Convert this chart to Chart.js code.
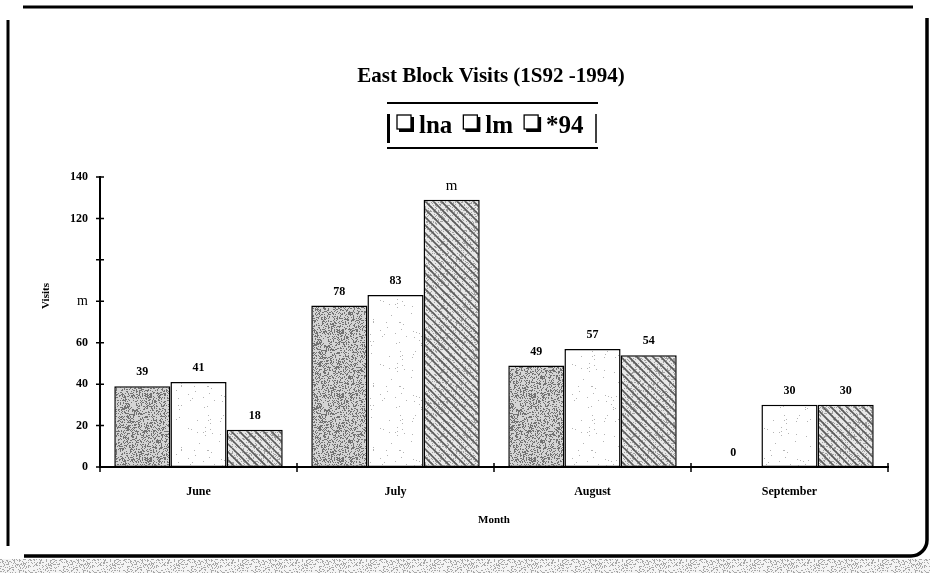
<!DOCTYPE html>
<html>
<head>
<meta charset="utf-8">
<title>East Block Visits</title>
<script src="https://cdn.jsdelivr.net/npm/chart.js@4.4.0/dist/chart.umd.min.js"></script>
<style>
  html, body { margin: 0; padding: 0; background: #fff; }
  #wrap { width: 930px; height: 573px; }
</style>
</head>
<body>
<div id="wrap"><canvas id="visitsChart" width="930" height="573"></canvas></div>
<script>
// visits per month, one array per year
const months = ['June', 'July', 'August', 'September'];
const visits92 = [39, 78, 49, 0];
const visits93 = [41, 83, 57, 30];
const visits94 = [18, 129, 54, 30];
const seriesNames = ['lna', 'lm', '*94'];
const yTickLabels = ['0', '20', '40', '60', 'm', '', '120', '140'];
const chartTitle = 'East Block Visits (1S92 -1994)';
const yTitle = 'Visits';
// printed label that differs from the number (1994, July)
const printedOverrides = { '2:1': 'm' };

const SERIF = '"Liberation Serif", "Times New Roman", serif';
const canvas = document.getElementById('visitsChart');
const mainCtx = canvas.getContext('2d');

// small deterministic generator, only used for fill textures
function lcg(seed) {
    let s = seed;
    return () => {
        s = (s * 1103515245 + 12345) & 0x7fffffff;
        return s / 0x7fffffff;
    };
}

function makePattern(size, paint) {
    const c = document.createElement('canvas');
    c.width = size;
    c.height = size;
    paint(c.getContext('2d'), size);
    return mainCtx.createPattern(c, 'repeat');
}

function speckle(ctx, size, base, dot, density, seed) {
    const rnd = lcg(seed);
    ctx.fillStyle = base;
    ctx.fillRect(0, 0, size, size);
    ctx.fillStyle = dot;
    for (let y = 0; y < size; y++) {
        for (let x = 0; x < size; x++) {
            if (rnd() < density) ctx.fillRect(x, y, 1, 1);
        }
    }
}

const stipple = makePattern(64, (ctx, n) => speckle(ctx, n, '#d4d4d4', '#727272', 0.34, 11));
const plain = makePattern(64, (ctx, n) => speckle(ctx, n, '#ffffff', '#b5b5b5', 0.012, 5));
const hatch = makePattern(64, (ctx, n) => {
    speckle(ctx, n, '#e8e8e8', '#a0a0a0', 0.2, 23);
    ctx.strokeStyle = '#5a5a5a';
    ctx.lineWidth = 1.6;
    for (let x0 = -n; x0 < n; x0 += 8) {
        ctx.beginPath();
        ctx.moveTo(x0, 0);
        ctx.lineTo(x0 + n, n);
        ctx.stroke();
    }
});
const grain = makePattern(64, (ctx, n) => speckle(ctx, n, '#f4f4f4', '#a8a8a8', 0.28, 41));

// page frame, titles and the boxed legend
const decorPlugin = {
    id: 'decor',
    beforeDraw(chart) {
        const ctx = chart.ctx;
        ctx.save();
        ctx.fillStyle = '#fff';
        ctx.fillRect(0, 0, chart.width, chart.height);
        ctx.fillStyle = grain;
        ctx.fillRect(0, 559, chart.width, chart.height - 559);

        ctx.strokeStyle = '#000';
        ctx.lineWidth = 3;
        ctx.beginPath();
        ctx.moveTo(23, 7);
        ctx.lineTo(913, 7);
        ctx.stroke();
        ctx.beginPath();
        ctx.moveTo(8, 20);
        ctx.lineTo(8, 546);
        ctx.stroke();
        ctx.lineWidth = 3.5;
        ctx.beginPath();
        ctx.moveTo(927, 18);
        ctx.lineTo(927, 540);
        ctx.arcTo(927, 556, 911, 556, 16);
        ctx.lineTo(24, 556);
        ctx.stroke();
        ctx.restore();
    },
    afterDraw(chart) {
        const ctx = chart.ctx;
        const cx = 491;
        ctx.save();
        ctx.fillStyle = '#000';
        ctx.textAlign = 'center';
        ctx.textBaseline = 'alphabetic';
        ctx.font = 'bold 21px ' + SERIF;
        ctx.fillText(chartTitle, cx, 82);

        // y axis title, sits a little above the middle of the axis
        ctx.save();
        ctx.translate(46, 296);
        ctx.rotate(-Math.PI / 2);
        ctx.textBaseline = 'middle';
        ctx.font = 'bold 11px ' + SERIF;
        ctx.fillText(yTitle, 0, 0);
        ctx.restore();

        // legend frame
        ctx.strokeStyle = '#000';
        ctx.lineWidth = 2;
        ctx.beginPath();
        ctx.moveTo(387, 103);
        ctx.lineTo(598, 103);
        ctx.moveTo(387, 148);
        ctx.lineTo(598, 148);
        ctx.stroke();
        ctx.lineWidth = 3;
        ctx.beginPath();
        ctx.moveTo(388.5, 114);
        ctx.lineTo(388.5, 143);
        ctx.stroke();
        ctx.lineWidth = 1.5;
        ctx.beginPath();
        ctx.moveTo(596, 114);
        ctx.lineTo(596, 143);
        ctx.stroke();

        // legend entries
        ctx.font = 'bold 25px ' + SERIF;
        ctx.textAlign = 'left';
        let x = 397;
        const base = 133;
        seriesNames.forEach(name => {
            ctx.fillStyle = '#000';
            ctx.fillRect(x + 2, base - 16, 15, 15);
            ctx.fillStyle = '#fff';
            ctx.fillRect(x, base - 18, 14, 14);
            ctx.lineWidth = 1.3;
            ctx.strokeStyle = '#000';
            ctx.strokeRect(x, base - 18, 14, 14);
            x += 22;
            ctx.fillStyle = '#000';
            ctx.fillText(name, x, base);
            x += ctx.measureText(name).width + 11;
        });
        ctx.restore();
    }
};

// ticks crossing both axes
const crossTicksPlugin = {
    id: 'crossTicks',
    afterDraw(chart) {
        const { ctx, chartArea } = chart;
        const yScale = chart.scales.y;
        const xScale = chart.scales.x;
        ctx.save();
        ctx.strokeStyle = '#000';
        ctx.lineWidth = 1.5;
        ctx.beginPath();
        yScale.ticks.forEach(t => {
            const y = yScale.getPixelForValue(t.value);
            ctx.moveTo(chartArea.left - 4, y);
            ctx.lineTo(chartArea.left + 4, y);
        });
        const step = (chartArea.right - chartArea.left) / months.length;
        for (let i = 0; i <= months.length; i++) {
            const x = chartArea.left + i * step;
            ctx.moveTo(x, xScale.top - 4);
            ctx.lineTo(x, xScale.top + 5);
        }
        ctx.stroke();
        ctx.restore();
    }
};

// value printed above every bar
const valueLabelPlugin = {
    id: 'valueLabels',
    afterDatasetsDraw(chart) {
        const ctx = chart.ctx;
        ctx.save();
        ctx.fillStyle = '#000';
        ctx.textAlign = 'center';
        ctx.textBaseline = 'middle';
        chart.data.datasets.forEach((ds, di) => {
            chart.getDatasetMeta(di).data.forEach((bar, i) => {
                const text = printedOverrides[di + ':' + i] ?? String(ds.data[i]);
                ctx.font = text === 'm' ? '15px ' + SERIF : 'bold 12px ' + SERIF;
                ctx.fillText(text, bar.x, bar.y - 14);
            });
        });
        ctx.restore();
    }
};

const axisFont = { family: SERIF, size: 12, weight: 'bold' };
const axisTitleFont = { family: SERIF, size: 11, weight: 'bold' };

new Chart(mainCtx, {
    type: 'bar',
    data: {
        labels: months,
        datasets: [
            { label: seriesNames[0], data: visits92, backgroundColor: stipple },
            { label: seriesNames[1], data: visits93, backgroundColor: plain },
            { label: seriesNames[2], data: visits94, backgroundColor: hatch }
        ].map(ds => Object.assign(ds, {
            borderColor: '#000',
            borderWidth: 1.5,
            borderSkipped: false,
            categoryPercentage: 0.855,
            barPercentage: 1.0
        }))
    },
    options: {
        responsive: false,
        animation: false,
        layout: { padding: { top: 177, left: 0, right: 42, bottom: 0 } },
        plugins: {
            legend: { display: false },
            title: { display: false },
            tooltip: { enabled: false }
        },
        scales: {
            x: {
                grid: { display: false, drawTicks: false, tickLength: 0, offset: true },
                border: { display: true, color: '#000', width: 2 },
                ticks: { color: '#000', font: axisFont, padding: 18 },
                title: {
                    display: true,
                    text: 'Month',
                    color: '#000',
                    font: axisTitleFont,
                    padding: { top: 0, bottom: 46 }
                },
                afterFit(scale) { scale.height = 106; }
            },
            y: {
                min: 0,
                max: 140,
                grid: { display: false, drawTicks: false, tickLength: 0 },
                border: { display: true, color: '#000', width: 2 },
                ticks: {
                    stepSize: 20,
                    color: '#000',
                    padding: 12,
                    callback: (value, index) => yTickLabels[index],
                    font: (c) => (c.tick && c.tick.label === 'm')
                        ? { family: SERIF, size: 14, weight: 'normal' }
                        : axisFont
                },
                title: { display: false },
                afterFit(scale) { scale.width = 100; }
            }
        }
    },
    plugins: [decorPlugin, crossTicksPlugin, valueLabelPlugin]
});
</script>
</body>
</html>
